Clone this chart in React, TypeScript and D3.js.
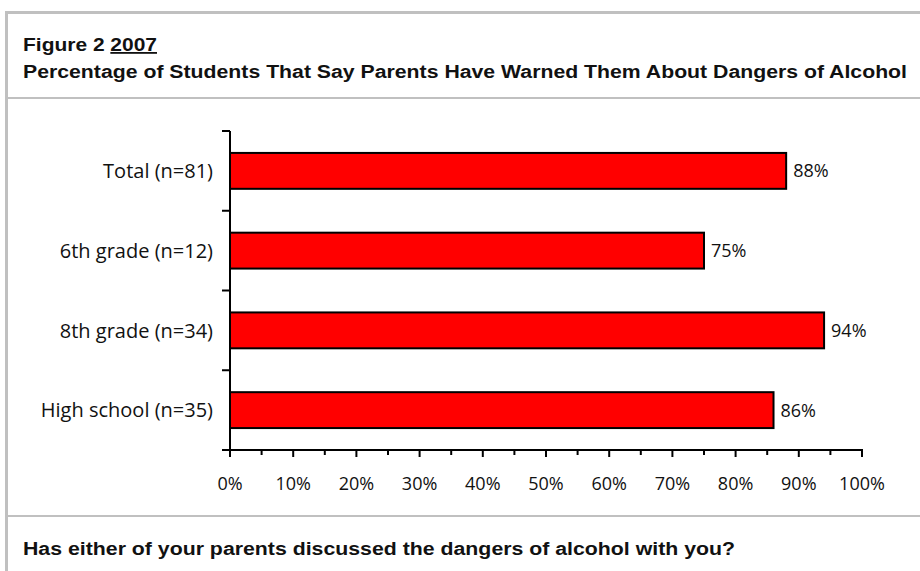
import React from "react";
import * as d3 from "d3";

const categories = ["Total (n=81)", "6th grade (n=12)", "8th grade (n=34)", "High school (n=35)"];
const values = [88, 75, 94, 86];
const xTicks = [0, 10, 20, 30, 40, 50, 60, 70, 80, 90, 100];
const minorTicks = [5, 15, 25, 35, 45, 55, 65, 75, 85, 95];
const titleLine1 = "Figure 2 ";
const titleYear = "2007";
const titleLine2 = "Percentage of Students That Say Parents Have Warned Them About Dangers of Alcohol";
const question = "Has either of your parents discussed the dangers of alcohol with you?";

const W = 920;
const H = 571;
const plotLeft = 230;
const plotRight = 862;
const plotTop = 131;
const plotBottom = 450;

const labelFont = "'Open Sans', 'DejaVu Sans', sans-serif";
const titleFont = "'Liberation Sans', Arial, sans-serif";

export default function App() {
  const x = d3.scaleLinear().domain([0, 100]).range([plotLeft, plotRight]);
  const y = d3.scaleBand<string>().domain(categories).range([plotTop, plotBottom]).paddingInner(0.55).paddingOuter(0.275);
  const bandEdges = d3.range(categories.length + 1).map((i) => plotTop + (i * (plotBottom - plotTop)) / categories.length);

  return (
    <div style={{ position: "fixed", left: 0, top: 0 }}>
      <svg width={W} height={H} style={{ display: "block", background: "#fff" }}>
        {/* frame */}
        <rect x={5} y={11} width={W} height={3} fill="#c0c0c0" />
        <rect x={5} y={11} width={3} height={H} fill="#c0c0c0" />
        <rect x={8} y={97} width={W} height={2} fill="#c0c0c0" />
        <rect x={8} y={515} width={W} height={2} fill="#c0c0c0" />

        {/* title */}
        <text x={23} y={51} fontFamily={titleFont} fontWeight={700} fontSize={18} fill="#111" textLength={134} lengthAdjust="spacingAndGlyphs">
          {titleLine1}
          <tspan textDecoration="underline">{titleYear}</tspan>
        </text>
        <text x={23} y={77.5} fontFamily={titleFont} fontWeight={700} fontSize={18} fill="#111" textLength={884} lengthAdjust="spacingAndGlyphs">
          {titleLine2}
        </text>

        {/* bars */}
        {categories.map((c, i) => (
          <g key={c}>
            <rect
              x={x(0)}
              y={y(c)!}
              width={x(values[i]) - x(0)}
              height={y.bandwidth()}
              fill="#ff0000"
              stroke="#000"
              strokeWidth={2}
            />
            <text x={x(values[i]) + 7} y={y(c)! + y.bandwidth() / 2} dy="0.36em" fontFamily={labelFont} fontSize={18} fill="#111">
              {values[i]}%
            </text>
            <text x={213} y={y(c)! + y.bandwidth() / 2} dy="0.36em" textAnchor="end" fontFamily={labelFont} fontSize={20} fill="#111">
              {c}
            </text>
          </g>
        ))}

        {/* y axis */}
        <line x1={plotLeft} x2={plotLeft} y1={plotTop} y2={plotBottom} stroke="#000" strokeWidth={2} />
        {bandEdges.map((e, i) => (
          <line key={i} x1={plotLeft - 8} x2={plotLeft} y1={e} y2={e} stroke="#000" strokeWidth={2} />
        ))}

        {/* x axis */}
        <line x1={plotLeft - 8} x2={plotRight + 1} y1={plotBottom} y2={plotBottom} stroke="#000" strokeWidth={2} />
        {xTicks.map((t) => (
          <g key={t}>
            <line x1={x(t)} x2={x(t)} y1={plotBottom} y2={plotBottom + 7} stroke="#000" strokeWidth={2} />
            <text x={x(t)} y={490} textAnchor="middle" fontFamily={labelFont} fontSize={18} fill="#111">
              {t}%
            </text>
          </g>
        ))}
        {minorTicks.map((t) => (
          <line key={t} x1={x(t)} x2={x(t)} y1={plotBottom} y2={plotBottom + 5} stroke="#000" strokeWidth={2} />
        ))}

        {/* question */}
        <text x={23} y={555} fontFamily={titleFont} fontWeight={700} fontSize={18} fill="#111" textLength={712} lengthAdjust="spacingAndGlyphs">
          {question}
        </text>
      </svg>
    </div>
  );
}
